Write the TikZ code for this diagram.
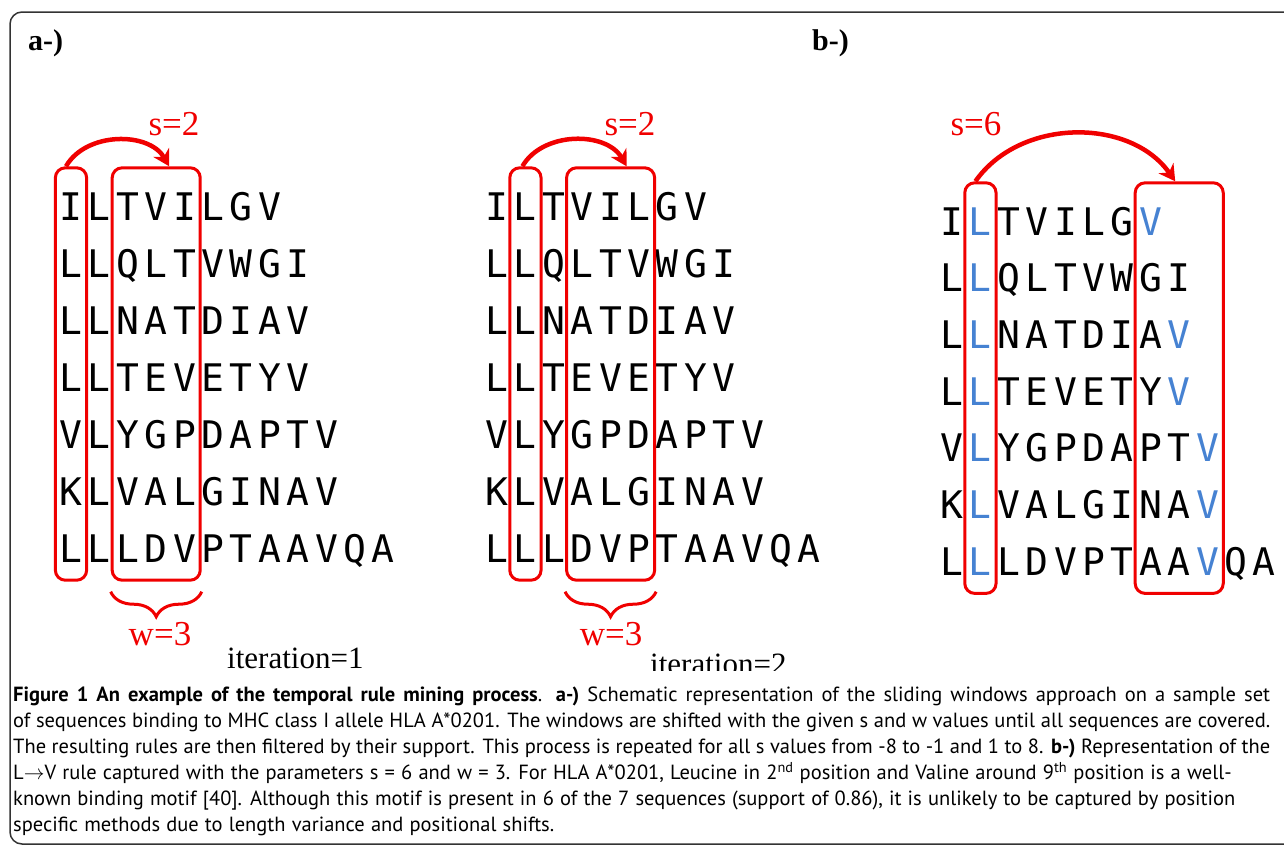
\documentclass[tikz,border=0pt]{standalone}
\usepackage{fontspec}
\setmainfont{Liberation Serif}
\newfontfamily\seqfont{DejaVu Sans Mono}
\newfontfamily\capfont{PT Sans}
\usetikzlibrary{arrows.meta,fit,decorations.pathreplacing}
\definecolor{lblue}{RGB}{70,130,210}
\definecolor{wred}{RGB}{240,0,0}
\newcommand\capsetup{\spaceskip=0.3em plus 0.3em minus 0.12em\relax
  \hyphenpenalty=10000\relax}
\begin{document}
\begin{tikzpicture}[x=1pt, y=1pt,
   res/.style={font=\seqfont\fontsize{38}{38}\selectfont, inner sep=0pt,
               text height=46pt, text depth=12pt, anchor=base},
   win/.style={draw=wred, line width=3pt, rounded corners=10pt,
               inner xsep=4pt, inner ysep=6pt},
   shiftarrow/.style={draw=wred, line width=4.5pt,
               -{Stealth[length=16pt,width=18pt]}},
   wbrace/.style={draw=wred, line width=3pt, decorate,
               decoration={brace, mirror, amplitude=25pt}},
   redlabel/.style={text=wred, font=\fontsize{35}{35}\selectfont,
               anchor=base, inner sep=0pt},
   iterlabel/.style={font=\fontsize{31}{31}\selectfont, anchor=base west, inner sep=0pt},
   panellabel/.style={font=\bfseries\fontsize{30}{30}\selectfont, anchor=base west, inner sep=0pt},
   caption/.style={font=\capfont\fontsize{20.5}{26}\selectfont,
               text width=1257pt, align=justify, inner sep=0pt, anchor=north west}]

\useasboundingbox (0,0) rectangle (1284,-846);
\draw[black!80, line width=1.5pt, rounded corners=12pt] (10,-12) rectangle (1320,-844);

\node[panellabel] (la) at (28,-50) {a-)};
\node[panellabel] (lb) at (812,-50) {b-)};

% sequences, one panel after the other
\foreach \p/\px/\py/\dy in {1/71/-220/-57, 2/497/-220/-57, 3/952/-235/-56.7}
  \foreach \seq [count=\r] in {{I,L,T,V,I,L,G,V},{L,L,Q,L,T,V,W,G,I},
      {L,L,N,A,T,D,I,A,V},{L,L,T,E,V,E,T,Y,V},{V,L,Y,G,P,D,A,P,T,V},
      {K,L,V,A,L,G,I,N,A,V},{L,L,L,D,V,P,T,A,A,V,Q,A}}
    \foreach \aa [count=\c] in \seq {
      \pgfmathtruncatemacro\vc{{8,0,9,9,10,10,10}[\r-1]}
      \pgfmathtruncatemacro\hl{and(\p==3,or(\c==2,\c==\vc))}
      \ifnum\hl=1 \def\rc{lblue}\else\def\rc{black}\fi
      \node[res, text=\rc] (s\p-\r-\c) at ({\px+28.4*(\c-1)},{\py+\dy*(\r-1)}) {\aa};
    }

% windows
\node[win, fit=(s1-1-1)(s1-7-1)] (win1a) {};
\node[win, fit=(s1-1-3)(s1-7-5)] (win1b) {};
\node[win, fit=(s2-1-2)(s2-7-2)] (win2a) {};
\node[win, fit=(s2-1-4)(s2-7-6)] (win2b) {};
\node[win, fit=(s3-1-2)(s3-7-2)] (win3a) {};
\node[win, fit=(s3-1-8)(s3-7-10)] (win3b) {};

% shifts
\draw[shiftarrow] ([xshift=-5pt]win1a.north) to[out=60,in=120] ([xshift=13pt]win1b.north);
\draw[shiftarrow] ([xshift=-3pt]win2a.north) to[out=60,in=120] ([xshift=16pt]win2b.north);
\draw[shiftarrow] ([xshift=-5pt]win3a.north) to[out=55,in=125] ([xshift=-4pt]win3b.north);
\node[redlabel] (s1) at (174,-135) {s=2};
\node[redlabel] (s2) at (630,-135) {s=2};
\node[redlabel] (s3) at (976,-135) {s=6};

% window widths
\draw[wbrace] ([yshift=-10pt]win1b.south west) -- ([yshift=-10pt]win1b.south east);
\draw[wbrace] ([yshift=-10pt]win2b.south west) -- ([yshift=-10pt]win2b.south east);
\node[redlabel] (w1) at (160,-645) {w=3};
\node[redlabel] (w2) at (611,-645) {w=3};

\node[iterlabel] (it1) at (227,-668) {iteration=1};
\begin{scope}
  \clip (600,-600) rectangle (860,-670);
  \node[iterlabel] (it2) at (650,-674) {iteration=2};
\end{scope}

\node[caption] (cap) at (13,-687) {\capsetup\textbf{Figure 1 An example of the temporal rule mining process}.
  \textbf{a-)} Schematic representation of the sliding windows approach on a sample set\linebreak
  of sequences binding to MHC class I allele HLA A*0201. The windows are shifted with the given s and w values until all sequences are covered.\linebreak
  The resulting rules are then filtered by their support. This process is repeated for all s values from -8 to -1 and 1 to 8. \textbf{b-)} Representation of the\linebreak
  L$\rightarrow$V rule captured with the parameters s = 6 and w = 3. For HLA A*0201, Leucine in 2\textsuperscript{nd} position and Valine around 9\textsuperscript{th} position is a well-\newline
  known binding motif [40]. Although this motif is present in 6 of the 7 sequences (support of 0.86), it is unlikely to be captured by position\newline
  specific methods due to length variance and positional shifts.};

\end{tikzpicture}
\end{document}
